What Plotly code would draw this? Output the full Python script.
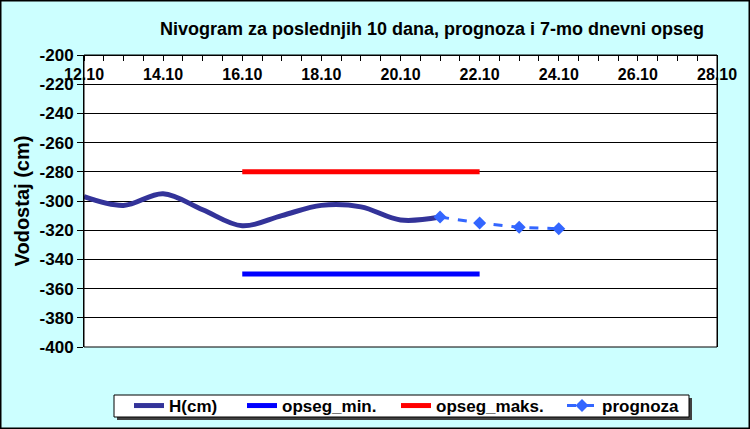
import plotly.graph_objects as go

# ---- data ----
h_dates = ["2023-10-12", "2023-10-13", "2023-10-14", "2023-10-15", "2023-10-16",
           "2023-10-17", "2023-10-18", "2023-10-19", "2023-10-20", "2023-10-21"]
h_values = [-297, -303, -295, -306, -317, -310, -303, -304, -313, -311]

range_dates = ["2023-10-16", "2023-10-22"]
opseg_min = [-350, -350]
opseg_maks = [-280, -280]

prog_dates = ["2023-10-21", "2023-10-22", "2023-10-23", "2023-10-24"]
prog_values = [-311, -315, -318, -319]

x_range = ["2023-10-12", "2023-10-28"]
y_range = [-400, -200]
y_tick_values = [-400, -380, -360, -340, -320, -300, -280, -260, -240, -220, -200]
y_tick_labels = ["-400", "-380", "-360", "-340", "-320", "-300", "-280", "-260", "-240", "-220", "-200"]

title_text = "Nivogram za poslednjih 10 dana, prognoza i 7-mo dnevni opseg"
y_title = "Vodostaj (cm)"

# ---- layout constants ----
W, H = 750, 429
L, R, T, B = 84, 33, 55, 82
PW, PH = W - L - R, H - T - B
FONT = "Liberation Sans, Arial, sans-serif"


def px_x(p):
    return (p - L) / PW


def px_y(p):
    return (H - B - p) / PH


fig = go.Figure()
fig.add_trace(go.Scatter(x=h_dates, y=h_values, name="H(cm)", mode="lines",
                         line=dict(color="#333399", width=5, shape="spline"),
                         legend="legend"))
fig.add_trace(go.Scatter(x=range_dates, y=opseg_min, name="opseg_min.", mode="lines",
                         line=dict(color="#0000FF", width=5), legend="legend2"))
fig.add_trace(go.Scatter(x=range_dates, y=opseg_maks, name="opseg_maks.", mode="lines",
                         line=dict(color="#FF0000", width=5), legend="legend3"))
fig.add_trace(go.Scatter(x=prog_dates, y=prog_values, name="prognoza", mode="lines+markers",
                         line=dict(color="#3366FF", width=3, dash="dash"),
                         marker=dict(symbol="diamond", size=10, color="#3366FF"),
                         legend="legend4"))

shapes = [
    # legend shadow
    dict(type="rect", xref="paper", yref="paper",
         x0=px_x(117), x1=px_x(692), y0=px_y(420), y1=px_y(398),
         fillcolor="#404040", line=dict(width=0), layer="above"),
    # legend box
    dict(type="rect", xref="paper", yref="paper",
         x0=px_x(114), x1=px_x(689), y0=px_y(417), y1=px_y(395),
         fillcolor="white", line=dict(color="black", width=1), layer="above"),
    # plot area border
    dict(type="rect", xref="paper", yref="paper", x0=0, x1=1, y0=0, y1=1,
         line=dict(color="black", width=1), fillcolor="rgba(0,0,0,0)", layer="above"),
    # outer border
    dict(type="rect", xref="paper", yref="paper",
         x0=px_x(0.75), x1=px_x(W - 0.75), y0=px_y(H - 0.75), y1=px_y(0.75),
         line=dict(color="black", width=1.5), fillcolor="rgba(0,0,0,0)", layer="above"),
]

legend_font = dict(family=FONT, size=17, color="black", weight="bold")
leg_common = dict(orientation="h", xref="container", yref="container",
                  xanchor="left", yanchor="middle", bgcolor="rgba(0,0,0,0)",
                  borderwidth=0, font=legend_font, itemwidth=30)
leg_x = [129, 242, 396, 562]
leg_y = 406

fig.update_layout(
    width=W, height=H,
    margin=dict(l=L, r=R, t=T, b=B, autoexpand=False),
    paper_bgcolor="#CCFFFF",
    plot_bgcolor="white",
    font=dict(family=FONT, size=16, color="black", weight="bold"),
    title=dict(text=title_text, xref="container", yref="container",
               x=432 / W, y=1 - 29 / H, xanchor="center", yanchor="middle",
               font=dict(family=FONT, size=18, color="black", weight="bold")),
    showlegend=True,
    legend=dict(x=leg_x[0] / W, y=1 - leg_y / H, **leg_common),
    legend2=dict(x=leg_x[1] / W, y=1 - leg_y / H, **leg_common),
    legend3=dict(x=leg_x[2] / W, y=1 - leg_y / H, **leg_common),
    legend4=dict(x=leg_x[3] / W, y=1 - leg_y / H, **leg_common),
    shapes=shapes,
)

fig.update_xaxes(
    type="date", range=x_range, side="bottom", anchor="free", position=1,
    tickformat="%d.%m", dtick=2 * 86400000, tick0="2023-10-12",
    ticks="outside", ticklen=5, tickcolor="black",
    minor=dict(dtick=43200000, ticks="outside", ticklen=5, tickcolor="black", showgrid=False),
    showgrid=False, zeroline=False, automargin=False,
    showline=True, linecolor="black", linewidth=1,
    tickfont=dict(family=FONT, size=16, color="black", weight="bold"),
)
fig.update_yaxes(
    range=y_range, tickmode="array", tickvals=y_tick_values, ticktext=y_tick_labels,
    ticks="outside", ticklen=6, tickcolor="black",
    showgrid=True, gridcolor="black", gridwidth=1, zeroline=False,
    showline=True, linecolor="black", linewidth=1, mirror=True, automargin=False,
    tickfont=dict(family=FONT, size=17, color="black", weight="bold"),
    title=dict(text=y_title, standoff=4,
               font=dict(family=FONT, size=20, color="black", weight="bold")),
)

fig.write_html("out.html",
               config={"displayModeBar": False},
               post_script="document.body.style.margin='0';document.body.style.overflow='hidden';")
